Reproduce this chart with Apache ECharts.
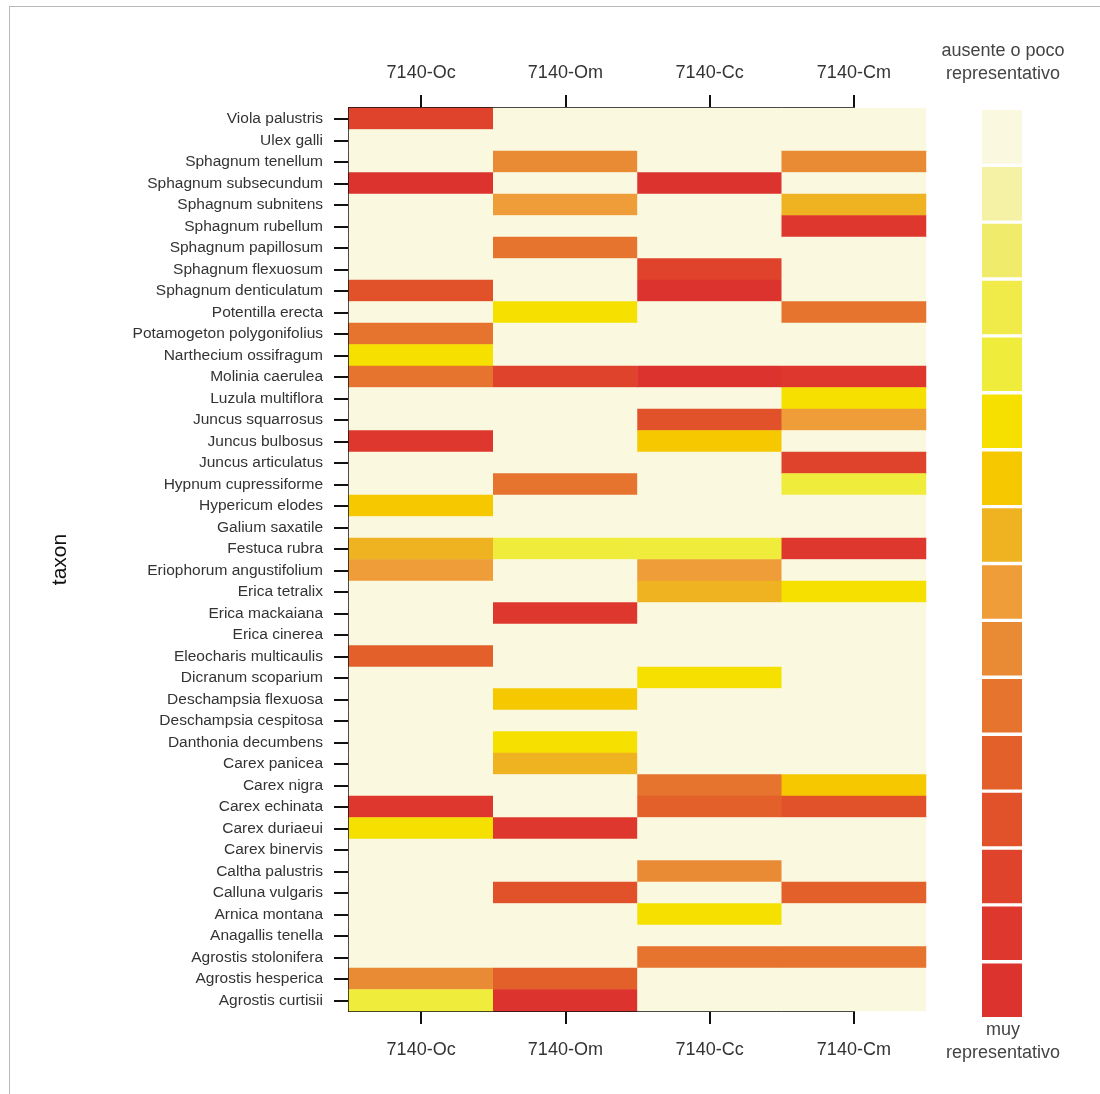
<!DOCTYPE html>
<html>
<head>
<meta charset="utf-8">
<script src="https://cdn.jsdelivr.net/npm/echarts@6/dist/echarts.min.js"></script>
<style>
  html, body { margin: 0; padding: 0; background: #fff; }
  #frame { position: absolute; left: 9px; top: 6px; width: 1200px; height: 1200px; border: 1px solid #b4bcb4; box-sizing: border-box; }
  #chart { position: absolute; left: 0; top: 0; width: 1100px; height: 1094px; }
</style>
</head>
<body>
<div id="frame"></div>
<div id="chart"></div>
<script>
const columns = ['7140-Oc', '7140-Om', '7140-Cc', '7140-Cm'];
const taxa = [
  'Viola palustris', 'Ulex galli', 'Sphagnum tenellum', 'Sphagnum subsecundum',
  'Sphagnum subnitens', 'Sphagnum rubellum', 'Sphagnum papillosum', 'Sphagnum flexuosum',
  'Sphagnum denticulatum', 'Potentilla erecta', 'Potamogeton polygonifolius', 'Narthecium ossifragum',
  'Molinia caerulea', 'Luzula multiflora', 'Juncus squarrosus', 'Juncus bulbosus',
  'Juncus articulatus', 'Hypnum cupressiforme', 'Hypericum elodes', 'Galium saxatile',
  'Festuca rubra', 'Eriophorum angustifolium', 'Erica tetralix', 'Erica mackaiana',
  'Erica cinerea', 'Eleocharis multicaulis', 'Dicranum scoparium', 'Deschampsia flexuosa',
  'Deschampsia cespitosa', 'Danthonia decumbens', 'Carex panicea', 'Carex nigra',
  'Carex echinata', 'Carex duriaeui', 'Carex binervis', 'Caltha palustris',
  'Calluna vulgaris', 'Arnica montana', 'Anagallis tenella', 'Agrostis stolonifera',
  'Agrostis hesperica', 'Agrostis curtisii'
];
// representativeness level, 0 = absent / low ... 15 = very representative
const oc = [13,0,0,15,0,0,0,0,12,0, 10,5,10,0,0,14,0,0,6,0, 7,8,0,0,0,11,0,0,0,0, 0,0,14,5,0,0,0,0,0,0, 9,4];
const om = [0,0,9,0,8,0,10,0,0,5, 0,0,13,0,0,0,0,10,0,0, 4,0,0,14,0,0,0,6,0,5, 7,0,0,14,0,0,12,0,0,0, 11,15];
const cc = [0,0,0,15,0,0,0,13,15,0, 0,0,15,0,12,6,0,0,0,0, 4,8,7,0,0,0,5,0,0,0, 0,10,11,0,0,9,0,5,0,10, 0,0];
const cm = [0,0,9,0,7,14,0,0,0,10, 0,0,14,5,8,0,13,4,0,0, 14,0,5,0,0,0,0,0,0,0, 0,6,12,0,0,0,11,0,0,10, 0,0];
const levelColors = [
  '#FAF8DF', '#F5F2A6', '#F0EB6B', '#F0EB48', '#F0EC3C', '#F5E000', '#F5C800', '#EFB322',
  '#EE9D38', '#E98A34', '#E6732E', '#E3602A', '#E2522A', '#DF432B', '#DE372D', '#DD332E'
];

const colValues = [oc, om, cc, cm];
const data = [];
colValues.forEach((vals, c) => vals.forEach((v, r) => data.push([c, r, v])));

const FONT = 'Liberation Sans';
const chart = echarts.init(document.getElementById('chart'), null, { renderer: 'canvas' });
chart.setOption({
  backgroundColor: 'transparent',
  animation: false,
  textStyle: { fontFamily: FONT },
  title: [
    { text: 'ausente o poco\nrepresentativo', left: 1003, top: 40, textAlign: 'center', padding: 0,
      textStyle: { fontFamily: FONT, fontSize: 18, fontWeight: 'normal', color: '#444', lineHeight: 23 } },
    { text: 'muy\nrepresentativo', left: 1003, top: 1019, textAlign: 'center', padding: 0,
      textStyle: { fontFamily: FONT, fontSize: 18, fontWeight: 'normal', color: '#444', lineHeight: 23 } }
  ],
  grid: [
    { left: 349, right: 174, top: 108, bottom: 83 },
    { left: 349, right: 247, top: 108, bottom: 83 }
  ],
  xAxis: [
    { type: 'category', data: columns, gridIndex: 0, position: 'top',
      axisLine: { show: false },
      axisTick: { show: true, alignWithLabel: true, length: 13, lineStyle: { color: '#111', width: 2 } },
      axisLabel: { margin: 26, fontSize: 18, color: '#333', fontFamily: FONT },
      splitLine: { show: false } },
    { type: 'category', data: columns, gridIndex: 0, position: 'bottom',
      axisLine: { show: false },
      axisTick: { show: true, alignWithLabel: true, length: 13, lineStyle: { color: '#111', width: 2 } },
      axisLabel: { margin: 30, fontSize: 18, color: '#333', fontFamily: FONT },
      splitLine: { show: false } },
    { type: 'category', data: [''], gridIndex: 1, position: 'top',
      axisLine: { show: true, lineStyle: { color: '#111', width: 2 } },
      axisTick: { show: false }, axisLabel: { show: false } },
    { type: 'category', data: [''], gridIndex: 1, position: 'bottom',
      axisLine: { show: true, lineStyle: { color: '#111', width: 2 } },
      axisTick: { show: false }, axisLabel: { show: false } }
  ],
  yAxis: [
    { type: 'category', data: taxa, gridIndex: 0, inverse: true,
      name: 'taxon', nameLocation: 'middle', nameGap: 278, nameRotate: 90,
      nameTextStyle: { fontSize: 21, color: '#111', fontFamily: FONT },
      axisLine: { show: true, lineStyle: { color: '#111', width: 2 } },
      axisTick: { show: true, alignWithLabel: true, length: 15, lineStyle: { color: '#111', width: 2 } },
      axisLabel: { margin: 26, fontSize: 15.5, color: '#333', fontFamily: FONT },
      splitLine: { show: false } },
    { type: 'category', data: [''], gridIndex: 1, show: false }
  ],
  visualMap: {
    type: 'piecewise',
    seriesIndex: 0,
    orient: 'vertical',
    inverse: true,
    left: 982,
    top: 110,
    padding: 0,
    itemWidth: 40,
    itemHeight: 53.5,
    itemGap: 3.4,
    itemSymbol: 'rect',
    showLabel: false,
    selectedMode: false,
    hoverLink: false,
    pieces: levelColors.map((c, i) => ({ value: i, color: c, label: '' }))
  },
  series: [{
    type: 'heatmap',
    xAxisIndex: 0,
    yAxisIndex: 0,
    data: data,
    itemStyle: { borderWidth: 0 },
    emphasis: { disabled: true }
  }]
});
</script>
</body>
</html>
